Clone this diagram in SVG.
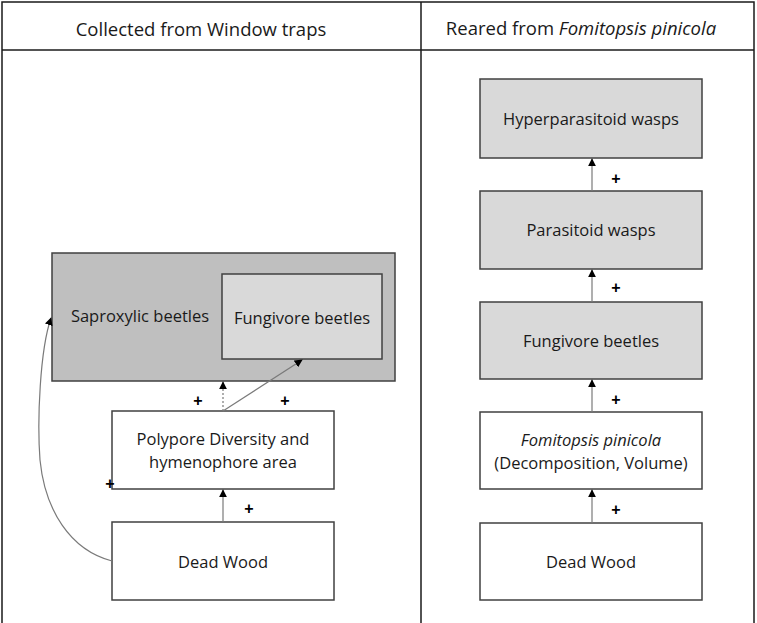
<svg xmlns="http://www.w3.org/2000/svg" width="757" height="623" viewBox="0 0 757 623">
<defs>
<style>
.frame{fill:none;stroke:#1a1a1a;stroke-width:1.5}
.box{stroke:#404040;stroke-width:1.5}
.w{fill:#ffffff}
.g{fill:#d9d9d9}
.dg{fill:#bfbfbf}
.t{font-family:"Open Sans","Liberation Sans",sans-serif;font-size:16.5px;fill:#1a1a1a;text-anchor:middle}
.h{font-family:"Open Sans","Liberation Sans",sans-serif;font-size:18.5px;fill:#1a1a1a;text-anchor:middle}
.p{font-family:"Liberation Sans",sans-serif;font-size:16px;font-weight:bold;fill:#000;text-anchor:middle}
.c{fill:none;stroke:#7a7a7a;stroke-width:1.2}
</style>
<marker id="ah" viewBox="0 0 10 10" refX="9" refY="5" markerWidth="8" markerHeight="8" markerUnits="userSpaceOnUse" orient="auto">
<path d="M0,0 L10,5 L0,10 z" fill="#000"/>
</marker>
</defs>
<rect width="757" height="623" fill="#ffffff"/>
<g id="table">
<rect class="frame" x="2" y="2" width="752" height="630"/>
<line class="frame" x1="2" y1="50" x2="754" y2="50"/>
<line class="frame" x1="421" y1="2" x2="421" y2="623"/>
<text class="h" x="201" y="36">Collected from Window traps</text>
<text class="h" x="581" y="35">Reared from <tspan font-style="italic">Fomitopsis pinicola</tspan></text>
</g>
<g id="saproxylic">
<rect class="box dg" x="52" y="253" width="343" height="128"/>
<text class="t" x="140" y="322">Saproxylic beetles</text>
</g>
<g id="fungivore-left">
<rect class="box g" x="222" y="274" width="160" height="85"/>
<text class="t" x="302" y="324">Fungivore beetles</text>
</g>
<g id="polypore">
<rect class="box w" x="112" y="411" width="222" height="78"/>
<text class="t" x="223" y="445">Polypore Diversity and</text>
<text class="t" x="223" y="468">hymenophore area</text>
</g>
<g id="deadwood-left">
<rect class="box w" x="112" y="522" width="222" height="78"/>
<text class="t" x="223" y="568">Dead Wood</text>
</g>
<g id="hyper">
<rect class="box g" x="480" y="79" width="222" height="79"/>
<text class="t" x="591" y="125">Hyperparasitoid wasps</text>
</g>
<g id="parasitoid">
<rect class="box g" x="480" y="191" width="222" height="78"/>
<text class="t" x="591" y="236">Parasitoid wasps</text>
</g>
<g id="fungivore-right">
<rect class="box g" x="480" y="302" width="222" height="77"/>
<text class="t" x="591" y="347">Fungivore beetles</text>
</g>
<g id="fomitopsis">
<rect class="box w" x="480" y="412" width="222" height="77"/>
<text class="t" x="591" y="446" font-style="italic">Fomitopsis pinicola</text>
<text class="t" x="591" y="469">(Decomposition, Volume)</text>
</g>
<g id="deadwood-right">
<rect class="box w" x="480" y="523" width="222" height="77"/>
<text class="t" x="591" y="568">Dead Wood</text>
</g>
<g id="connectors">
<line class="c" x1="223" y1="522" x2="223" y2="490" marker-end="url(#ah)"/>
<line class="c" x1="223" y1="411" x2="223" y2="382" stroke-dasharray="2,2" marker-end="url(#ah)"/>
<line class="c" x1="223" y1="411" x2="302" y2="360" marker-end="url(#ah)"/>
<path class="c" d="M112,561 C70,550 45,510 40,460 C37,420 40,350 51,318" marker-end="url(#ah)"/>
<line class="c" x1="592" y1="191" x2="592" y2="159" marker-end="url(#ah)"/>
<line class="c" x1="592" y1="302" x2="592" y2="270" marker-end="url(#ah)"/>
<line class="c" x1="592" y1="412" x2="592" y2="380" marker-end="url(#ah)"/>
<line class="c" x1="592" y1="523" x2="592" y2="490" marker-end="url(#ah)"/>
<text class="p" x="249" y="514">+</text>
<text class="p" x="198" y="406">+</text>
<text class="p" x="285" y="406">+</text>
<text class="p" x="110" y="489">+</text>
<text class="p" x="616" y="184">+</text>
<text class="p" x="616" y="293">+</text>
<text class="p" x="616" y="405">+</text>
<text class="p" x="616" y="515">+</text>
</g>
</svg>
